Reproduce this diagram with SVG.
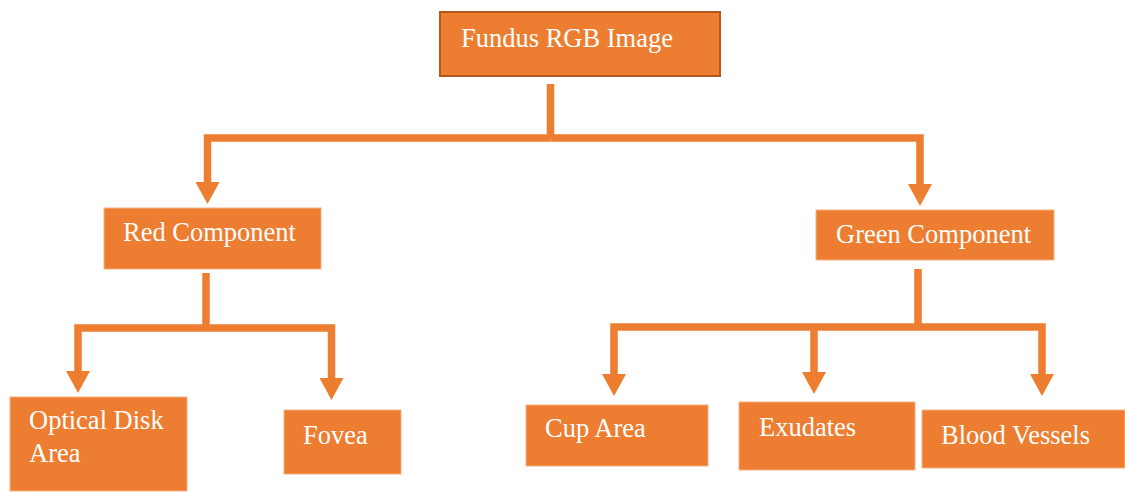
<svg xmlns="http://www.w3.org/2000/svg" width="1125" height="492" viewBox="0 0 1125 492">
  <style>
    .box { fill: #ED7D31; stroke: #F4B183; stroke-width: 1; }
    .root { fill: #ED7D31; stroke: #B0581E; stroke-width: 2; }
    .label { font-family: "Liberation Serif", "Times New Roman", serif; font-size: 26.5px; fill: #FFFFFF; }
    .link { fill: none; stroke: #ED7D31; stroke-width: 7.5; stroke-linejoin: miter; stroke-linecap: butt; }
  </style>
  <defs>
    <marker id="head" markerUnits="userSpaceOnUse" markerWidth="24" markerHeight="24" refX="0" refY="12" orient="auto" viewBox="0 0 22 24">
      <path d="M0,0 L22,12 L0,24 Z" fill="#ED7D31"/>
    </marker>
  </defs>

  <!-- tree connectors -->
  <g id="connectors">
    <path class="link" d="M550.5,84 V138"/>
    <path class="link" d="M550.5,138 H207.5 V182" marker-end="url(#head)"/>
    <path class="link" d="M550.5,138 H920 V184" marker-end="url(#head)"/>

    <path class="link" d="M206,273 V328"/>
    <path class="link" d="M206,328 H78 V371" marker-end="url(#head)"/>
    <path class="link" d="M206,328 H331.5 V378" marker-end="url(#head)"/>

    <path class="link" d="M918,269 V327"/>
    <path class="link" d="M918,327 H614 V374" marker-end="url(#head)"/>
    <path class="link" d="M814,327 V372" marker-end="url(#head)"/>
    <path class="link" d="M918,327 H1042 V374" marker-end="url(#head)"/>
  </g>

  <g id="fundus-rgb-image">
    <rect class="root" x="440" y="12" width="280" height="64"/>
    <text class="label" x="461" y="47">Fundus RGB Image</text>
  </g>

  <g id="red-component">
    <rect class="box" x="104" y="208" width="217" height="61"/>
    <text class="label" x="123" y="241">Red Component</text>
  </g>

  <g id="green-component">
    <rect class="box" x="816" y="210" width="238" height="50"/>
    <text class="label" x="836" y="243">Green Component</text>
  </g>

  <g id="optical-disk-area">
    <rect class="box" x="10" y="397" width="177" height="94"/>
    <text class="label" x="29" y="429">Optical Disk</text>
    <text class="label" x="29" y="462">Area</text>
  </g>

  <g id="fovea">
    <rect class="box" x="284" y="410" width="117" height="64"/>
    <text class="label" x="303" y="444">Fovea</text>
  </g>

  <g id="cup-area">
    <rect class="box" x="526" y="405" width="182" height="61"/>
    <text class="label" x="545" y="437">Cup Area</text>
  </g>

  <g id="exudates">
    <rect class="box" x="739" y="402" width="176" height="68"/>
    <text class="label" x="759" y="436">Exudates</text>
  </g>

  <g id="blood-vessels">
    <rect class="box" x="922" y="410" width="203" height="58"/>
    <text class="label" x="941" y="444">Blood Vessels</text>
  </g>
</svg>
